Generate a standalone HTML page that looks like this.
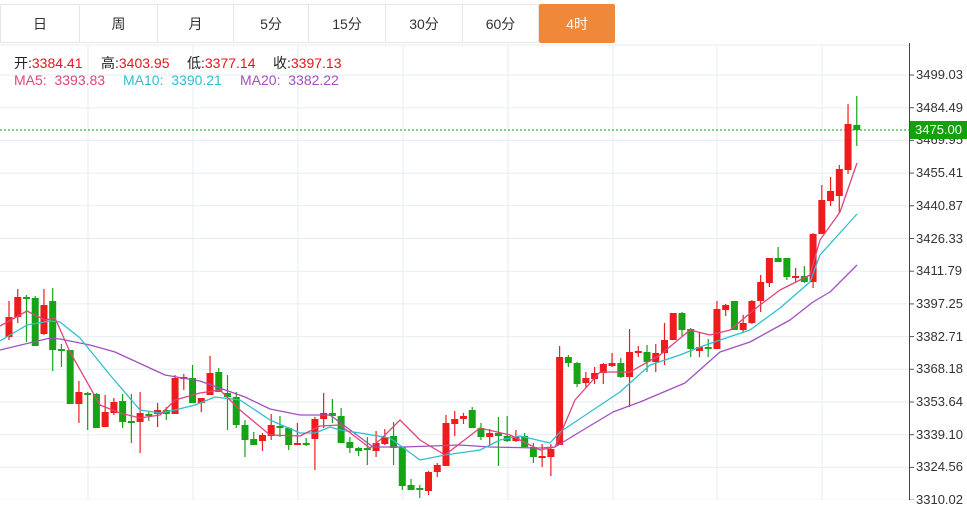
<!DOCTYPE html>
<html><head><meta charset="utf-8">
<style>
body{margin:0;width:967px;height:500px;overflow:hidden;background:#fff;font-family:"Liberation Sans","Noto Sans CJK SC",sans-serif;}
.tab{position:absolute;top:4px;height:39px;line-height:39px;text-align:center;font-size:14px;color:#333;border:1px solid #e6e6e6;box-sizing:border-box;background:#fff}
.on{background:#f0883a;color:#fff;border-color:#f0883a;border-radius:2px}
.lg{position:absolute;font-size:14px;white-space:nowrap}
.yl{position:absolute;left:916px;font-size:13px;color:#333;line-height:14px}
</style></head><body>
<svg id="s" width="967" height="500" style="position:absolute;left:0;top:0"></svg>
<div class="tab" style="left:0;width:80px">日</div>
<div class="tab" style="left:79px;width:79px">周</div>
<div class="tab" style="left:157px;width:77px">月</div>
<div class="tab" style="left:233px;width:76px">5分</div>
<div class="tab" style="left:308px;width:78px">15分</div>
<div class="tab" style="left:385px;width:78px">30分</div>
<div class="tab" style="left:462px;width:77px">60分</div>
<div class="tab on" style="left:539px;width:76px">4时</div>
<div class="lg" style="left:14px;top:53px;color:#222">开:<span style="color:#e8141b">3384.41</span></div>
<div class="lg" style="left:101px;top:53px;color:#222">高:<span style="color:#e8141b">3403.95</span></div>
<div class="lg" style="left:187px;top:53px;color:#222">低:<span style="color:#e8141b">3377.14</span></div>
<div class="lg" style="left:273px;top:53px;color:#222">收:<span style="color:#e8141b">3397.13</span></div>
<div class="lg" style="left:14px;top:72px;color:#e0457b">MA5:&nbsp; 3393.83</div>
<div class="lg" style="left:123px;top:72px;color:#30bfcf">MA10:&nbsp; 3390.21</div>
<div class="lg" style="left:240px;top:72px;color:#a050c0">MA20:&nbsp; 3382.22</div>
<div id="yl"></div>
<div style="position:absolute;left:910px;top:121px;width:57px;height:18px;background:#13a10e;color:#fff;font-size:13px;line-height:18px;text-align:center">3475.00</div>
<script>
var s=document.getElementById('s'),h='';
var ticks=['3499.03','3484.49','3469.95','3455.41','3440.87','3426.33','3411.79','3397.25','3382.71','3368.18','3353.64','3339.10','3324.56','3310.02'];
var yl='';
for(var i=0;i<ticks.length;i++){var y=75+i*32.7;h+='<line x1="0" x2="909" y1="'+y+'" y2="'+y+'" stroke="#e6edf2"/>';h+='<line x1="909" x2="914" y1="'+y+'" y2="'+y+'" stroke="#555"/>';yl+='<div class="yl" style="top:'+(y-7)+'px">'+ticks[i]+'</div>';}
document.getElementById('yl').innerHTML=yl;
[88,193,298,403,508,613,717,822].forEach(function(x){h+='<line x1="'+x+'" x2="'+x+'" y1="45" y2="500" stroke="#e6edf2"/>';});
h+='<line x1="0" x2="909" y1="45" y2="45" stroke="#e6edf2"/>';
h+='<line x1="909.5" x2="909.5" y1="43" y2="500" stroke="#444"/>';
h+='<line x1="0" x2="910" y1="130" y2="130" stroke="#13a10e" stroke-dasharray="2,2"/>';
var d=[['r',317,337,301,340],['r',297,317,289,323],['g',297,299,295,342],['g',298,346,296,346],['r',305,334,289,335],['g',301,350,288,371],['g',349,351,344,367],['g',350,404,350,404],['r',392,404,381,423],['g',393,394,392,430],['g',394,428,393,428],['r',412,427,395,427],['r',402,413,398,415],['g',401,422,394,428],['g',421,422,394,443],['r',413,422,392,453],['g',414,416,411,421],['r',410,414,403,427],['g',410,414,407,420],['r',378,414,375,414],['r',377,379,374,390],['g',378,403,365,403],['r',398,403,398,412],['r',373,395,356,395],['g',372,392,368,392],['g',393,397,375,430],['g',397,425,392,428],['g',425,440,420,457],['g',439,445,432,445],['r',435,441,433,451],['r',425,436,414,440],['g',426,428,416,437],['g',428,445,427,450],['r',443,445,423,445],['g',443,444,438,446],['r',419,439,417,470],['r',413,419,393,428],['g',413,416,399,423],['g',416,443,408,443],['g',442,448,437,453],['g',448,451,447,456],['g',448,450,437,465],['r',443,451,431,457],['r',437,444,429,445],['g',436,448,422,465],['g',447,486,447,490],['g',485,490,479,490],['g',488,489,485,498],['r',472,491,471,495],['r',465,472,463,477],['r',423,466,415,466],['r',419,424,411,436],['r',416,419,413,424],['g',410,428,407,428],['g',428,437,423,440],['r',433,437,429,446],['g',433,436,417,466],['g',436,441,416,442],['r',437,441,430,442],['g',436,447,433,447],['g',447,457,443,463],['r',456,457,444,467],['r',449,457,444,476],['r',357,445,346,445],['g',357,363,355,367],['g',363,384,362,387],['r',378,383,372,388],['r',373,379,367,384],['r',364,373,363,384],['r',363,366,353,367],['g',363,377,358,378],['r',352,377,329,407],['r',351,352,346,357],['g',352,362,345,372],['r',353,362,344,372],['r',340,353,323,365],['r',313,340,313,340],['g',313,330,312,336],['g',329,349,328,357],['r',347,351,332,357],['g',347,349,339,357],['r',309,349,301,349],['r',305,310,304,316],['g',301,330,301,330],['r',323,330,315,332],['r',301,323,300,324],['r',282,301,275,312],['r',258,283,258,287],['g',258,262,247,262],['g',258,277,258,280],['r',276,277,268,282],['g',276,282,266,283],['r',234,282,233,288],['r',200,234,185,234],['r',191,201,177,206],['r',169,196,165,213],['r',124,170,104,174],['g',125,130,96,146]];
for(var i=0;i<d.length;i++){var c=d[i],x=9+i*8.74,col=c[0]=='r'?'#ee1c1c':'#16a316';
h+='<line x1="'+x+'" x2="'+x+'" y1="'+c[3]+'" y2="'+c[4]+'" stroke="'+col+'" stroke-width="1.2"/>';
var bh=Math.max(c[2]-c[1],2);h+='<rect x="'+(x-3.5)+'" y="'+c[1]+'" width="7" height="'+bh+'" fill="'+col+'"/>';}
function pl(p,col){h+='<polyline fill="none" stroke="'+col+'" stroke-width="1.3" stroke-linejoin="round" points="'+p+'"/>';}
pl('0,350 50,338 60,339 90,345 115,352 165,375 200,381 245,397 270,409 300,415 330,415 373,447 403,447 460,445 490,447 540,448 555,447 583,430 613,412 640,402 685,383 720,352 750,342 790,320 813,302 830,292 857,265','#a050c0');
pl('0,341 27,325 50,321 60,322 80,338 110,375 140,410 160,413 175,410 195,405 215,397 240,400 270,420 300,433 315,433 330,427 340,430 360,433 390,438 420,460 445,455 480,450 500,440 520,436 550,443 560,432 590,412 620,392 650,365 680,355 700,347 720,340 750,330 780,308 810,282 820,255 857,214','#30bfcf');
pl('0,326 27,311 45,320 55,318 70,352 100,405 120,413 140,418 160,415 175,400 200,393 220,390 240,410 270,435 300,436 320,426 340,425 370,448 380,440 400,420 420,440 445,455 480,428 510,435 540,450 555,447 575,400 600,372 630,372 660,355 690,330 710,335 730,330 760,305 780,290 810,275 820,240 840,212 857,163','#e0457b');
s.innerHTML=h;
</script>
</body></html>
